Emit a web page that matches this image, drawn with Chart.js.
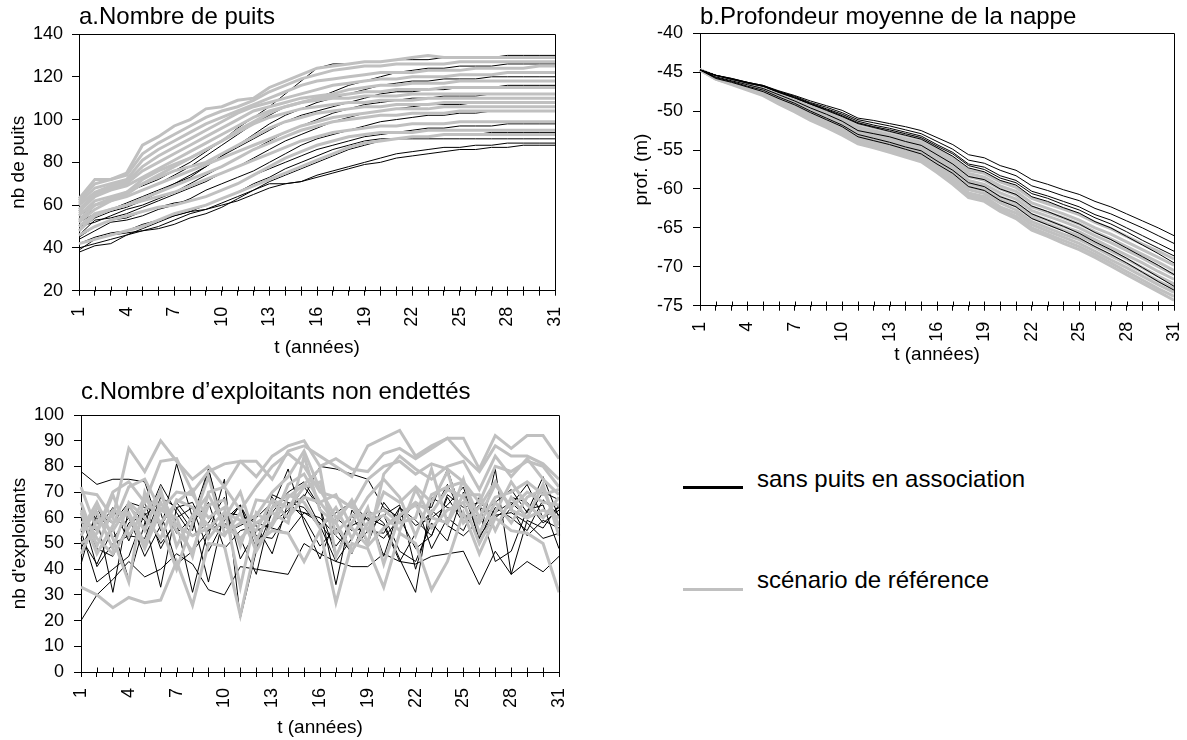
<!DOCTYPE html>
<html lang="fr">
<head>
<meta charset="utf-8">
<script src="https://cdn.jsdelivr.net/npm/chart.js@4.4.1/dist/chart.umd.min.js"></script>
<style>
html,body{margin:0;padding:0;background:#fff;}
body{width:1187px;height:740px;position:relative;overflow:hidden;font-family:"Liberation Sans",Arial,sans-serif;}
canvas{position:absolute;}
#cA{left:0;top:0;} #cB{left:620px;top:0;} #cC{left:0;top:370px;}
.leg{position:absolute;left:683px;width:60px;height:3px;}
.legt{position:absolute;left:757px;font-size:24px;line-height:24px;color:#000;white-space:nowrap;}
</style>
</head>
<body>
<canvas id="cA" width="580" height="370"></canvas>
<canvas id="cB" width="567" height="370"></canvas>
<canvas id="cC" width="580" height="370"></canvas>
<div class="leg" style="top:486px;background:#000"></div>
<div class="legt" style="top:467px">sans puits en association</div>
<div class="leg" style="top:588px;background:#c0c0c0"></div>
<div class="legt" style="top:568px">scénario de référence</div>
<script>
// années de simulation (axe x commun)
const annees = ["1","2","3","4","5","6","7","8","9","10","11","12","13","14","15","16","17","18","19","20","21","22","23","24","25","26","27","28","29","30","31"];

// a. nombre de puits — sans puits en association (noir)
const puitsSans = [
  [38,41,42,46,48,50,53,56,58,60, 62,65,68,70,71,73,75,77,79,80, 82,83,84,85,86,86,87,87,88,88,88],
  [40,42,44,46,49,52,55,57,58,61, 64,67,70,70,71,74,76,78,80,82, 84,85,86,87,87,88,88,89,89,89,89],
  [39,44,46,47,48,49,51,54,56,59, 63,67,71,74,77,80,83,86,88,90, 91,92,92,93,93,93,94,94,94,94,94],
  [42,45,47,48,51,53,55,57,60,63, 66,70,73,77,80,83,86,88,90,91, 91,91,91,91,91,91,91,91,91,91,91],
  [45,50,53,54,57,59,61,62,64,67, 70,74,77,80,83,86,88,90,92,93, 94,95,96,96,97,97,97,98,98,98,98],
  [44,48,52,53,55,58,60,63,67,70, 73,76,80,84,88,91,93,95,97,99, 100,101,102,102,103,103,104,104,104,104,104],
  [46,53,54,56,59,62,65,68,71,75, 78,82,86,90,93,96,99,101,103,104, 105,106,107,107,107,108,108,108,108,108,108],
  [50,52,55,58,60,63,66,70,74,78, 82,86,90,94,97,100,103,105,107,108, 109,110,110,111,111,111,112,112,112,112,112],
  [48,54,57,59,62,66,70,74,78,83, 87,91,95,99,102,104,106,108,110,112, 113,113,114,114,115,115,115,116,116,116,116],
  [52,56,58,61,64,67,70,73,78,83, 88,93,98,102,105,108,110,112,114,116, 117,118,118,119,119,119,120,120,120,120,120],
  [54,58,62,64,67,70,74,78,83,88, 93,98,102,106,108,110,113,116,118,120, 122,123,124,124,125,125,125,126,126,126,126],
  [55,60,63,66,69,72,76,80,85,90, 96,101,106,112,118,124,126,126,127,127, 128,128,128,129,129,129,129,130,130,130,130]
];
// a. nombre de puits — scénario de référence (gris)
const puitsRef = [
  [42,44,46,48,50,53,56,58,60,63, 66,69,72,75,78,81,84,87,89,90, 91,92,92,93,93,93,93,93,93,93,93],
  [46,50,53,55,57,59,60,62,64,67, 70,74,78,82,85,88,90,92,93,94, 94,94,95,95,95,95,95,95,95,95,95],
  [48,55,58,60,62,64,66,69,72,75, 78,81,84,87,90,92,94,95,96,97, 97,98,98,98,99,99,99,99,99,99,99],
  [50,56,58,60,63,66,69,72,75,78, 82,86,89,92,95,97,99,100,101,102, 102,103,103,103,104,104,104,104,104,104,104],
  [52,58,62,64,67,70,73,76,79,82, 85,88,91,94,97,99,101,102,103,104, 105,105,105,106,106,106,106,106,106,106,106],
  [53,60,63,66,70,73,76,78,80,84, 88,92,96,99,101,103,104,105,106,106, 107,107,107,108,108,108,108,108,108,108,108],
  [55,62,64,66,72,76,79,82,86,90, 94,98,101,103,105,106,107,108,108,109, 109,109,110,110,110,110,110,110,110,110,110],
  [56,60,62,65,70,74,78,82,86,90, 95,99,103,106,108,109,110,110,111,111, 111,112,112,112,112,112,112,112,112,112,112],
  [57,64,67,69,73,77,81,85,89,93, 97,101,104,106,108,110,111,112,113,113, 114,114,114,115,115,115,115,115,115,115,115],
  [58,65,68,70,76,80,84,88,92,96, 100,104,106,108,110,111,112,114,115,116, 116,117,117,117,118,118,118,118,118,118,118],
  [60,66,69,71,78,83,87,91,95,99, 103,106,108,110,112,114,116,117,118,119, 119,120,120,120,121,121,121,122,122,122,122],
  [61,68,70,72,81,86,90,94,98,101, 104,107,110,113,116,118,119,120,121,122, 122,122,123,123,123,124,124,124,124,125,125],
  [62,70,72,74,84,89,93,97,101,104, 106,109,113,116,119,121,123,124,125,125, 126,126,126,126,127,127,127,127,127,127,127],
  [63,72,72,75,88,92,97,100,105,106, 109,110,115,118,121,124,125,126,127,127, 128,129,130,129,129,129,129,129,129,129,129]
];

// b. profondeur moyenne de la nappe (m)
const profSans = [
  [-44.7,-45.4,-45.8,-46.3,-46.7,-47.4,-48.0,-48.7,-49.3,-49.9, -50.9,-51.2,-51.6,-52.0,-52.5,-53.4,-54.3,-55.6,-56.0,-57.0, -57.6,-58.8,-59.4,-60.1,-60.7,-61.6,-62.3,-63.2,-64.1,-65.0,-66.0],
  [-44.7,-45.4,-45.8,-46.3,-46.7,-47.5,-48.1,-48.9,-49.5,-50.2, -51.1,-51.5,-51.9,-52.4,-52.9,-53.9,-54.9,-56.3,-56.7,-57.6, -58.3,-59.6,-60.2,-60.9,-61.5,-62.5,-63.2,-64.1,-65.0,-66.0,-67.0],
  [-44.7,-45.4,-45.9,-46.3,-46.8,-47.5,-48.2,-49.0,-49.7,-50.4, -51.3,-51.8,-52.2,-52.7,-53.2,-54.3,-55.3,-56.8,-57.2,-58.3, -58.9,-60.3,-60.9,-61.6,-62.3,-63.3,-64.0,-65.0,-66.0,-67.0,-68.0],
  [-44.7,-45.4,-45.9,-46.4,-46.8,-47.6,-48.3,-49.1,-49.8,-50.6, -51.5,-52.0,-52.4,-52.9,-53.4,-54.5,-55.5,-57.0,-57.5,-58.6, -59.2,-60.6,-61.2,-62.0,-62.7,-63.7,-64.5,-65.5,-66.6,-67.6,-68.6],
  [-44.7,-45.4,-45.9,-46.4,-46.8,-47.6,-48.3,-49.1,-49.9,-50.7, -51.6,-52.1,-52.6,-53.1,-53.6,-54.7,-55.8,-57.3,-57.8,-58.9, -59.5,-61.0,-61.6,-62.4,-63.1,-64.2,-65.0,-66.1,-67.2,-68.3,-69.5],
  [-44.7,-45.6,-46.1,-46.6,-47.1,-47.9,-48.7,-49.6,-50.4,-51.3, -52.5,-52.9,-53.3,-53.9,-54.4,-55.6,-56.8,-58.4,-58.8,-60.0, -60.7,-62.2,-62.9,-63.7,-64.5,-65.6,-66.5,-67.6,-68.7,-69.8,-71.0],
  [-44.7,-45.7,-46.2,-46.8,-47.3,-48.2,-49.0,-50.0,-50.9,-51.8, -53.0,-53.5,-54.0,-54.6,-55.1,-56.4,-57.6,-59.2,-59.7,-61.0, -61.7,-63.2,-64.0,-64.8,-65.7,-66.8,-67.8,-68.9,-70.1,-71.3,-72.5],
  [-44.7,-45.8,-46.3,-46.9,-47.5,-48.4,-49.2,-50.2,-51.1,-52.0, -53.3,-53.8,-54.3,-54.9,-55.5,-56.8,-58.0,-59.7,-60.2,-61.5, -62.3,-63.8,-64.6,-65.4,-66.3,-67.4,-68.4,-69.5,-70.7,-71.9,-73.0]
];
const profRef = [
  [-44.7,-45.5,-46.0,-46.5,-46.9,-47.7,-48.5,-49.2,-49.9,-50.6, -51.6,-52.1,-52.6,-53.1,-53.6,-54.8,-56.0,-57.6,-58.0,-59.1, -59.8,-61.2,-61.9,-62.6,-63.3,-64.3,-65.1,-66.1,-67.1,-68.0,-69.0],
  [-44.7,-45.5,-46.1,-46.6,-47.1,-47.9,-48.7,-49.5,-50.2,-51.0, -52.0,-52.5,-53.0,-53.5,-54.0,-55.2,-56.4,-58.0,-58.5,-59.6, -60.3,-61.8,-62.5,-63.2,-64.0,-65.0,-65.8,-66.8,-67.8,-68.8,-69.8],
  [-44.7,-45.6,-46.2,-46.7,-47.2,-48.1,-48.9,-49.7,-50.5,-51.3, -52.3,-52.8,-53.3,-53.8,-54.3,-55.5,-56.8,-58.4,-58.9,-60.0, -60.8,-62.3,-63.0,-63.7,-64.5,-65.5,-66.4,-67.4,-68.4,-69.4,-70.5],
  [-44.7,-45.6,-46.2,-46.8,-47.3,-48.2,-49.1,-49.9,-50.7,-51.6, -52.6,-53.1,-53.6,-54.1,-54.7,-55.9,-57.2,-58.9,-59.4,-60.5, -61.3,-62.8,-63.5,-64.2,-65.0,-66.0,-66.9,-67.9,-68.9,-70.0,-71.0],
  [-44.7,-45.7,-46.3,-46.9,-47.4,-48.4,-49.3,-50.1,-51.0,-51.9, -52.9,-53.4,-53.9,-54.4,-55.0,-56.3,-57.6,-59.3,-59.8,-61.0, -61.8,-63.3,-64.0,-64.8,-65.5,-66.5,-67.5,-68.5,-69.5,-70.6,-71.6],
  [-44.7,-45.7,-46.3,-47.0,-47.5,-48.5,-49.4,-50.3,-51.2,-52.1, -53.2,-53.7,-54.2,-54.7,-55.3,-56.6,-58.0,-59.7,-60.2,-61.4, -62.2,-63.7,-64.5,-65.3,-66.0,-67.0,-68.0,-69.0,-70.1,-71.2,-72.2],
  [-44.7,-45.8,-46.4,-47.1,-47.6,-48.7,-49.6,-50.5,-51.4,-52.4, -53.5,-54.0,-54.5,-55.0,-55.6,-57.0,-58.4,-60.1,-60.6,-61.8, -62.7,-64.2,-65.0,-65.8,-66.5,-67.5,-68.6,-69.6,-70.7,-71.8,-72.8],
  [-44.7,-45.8,-46.5,-47.2,-47.8,-48.9,-49.8,-50.8,-51.7,-52.7, -53.8,-54.3,-54.8,-55.3,-55.9,-57.3,-58.8,-60.5,-61.0,-62.3, -63.1,-64.6,-65.4,-66.2,-67.0,-68.0,-69.1,-70.1,-71.2,-72.3,-73.3],
  [-44.7,-45.9,-46.5,-47.2,-47.9,-49.0,-50.0,-51.0,-51.9,-52.9, -54.0,-54.5,-55.0,-55.6,-56.2,-57.6,-59.1,-60.8,-61.3,-62.6, -63.5,-65.0,-65.8,-66.6,-67.4,-68.4,-69.5,-70.6,-71.7,-72.8,-73.8],
  [-44.7,-45.9,-46.6,-47.3,-48.0,-49.1,-50.1,-51.2,-52.1,-53.1, -54.2,-54.7,-55.3,-55.9,-56.5,-57.9,-59.4,-61.1,-61.6,-62.9, -63.8,-65.3,-66.1,-67.0,-67.8,-68.8,-69.9,-71.0,-72.1,-73.2,-74.3]
];

// c. nombre d'exploitants non endettés
const exploitSans = [
  [20,30,36,43,37,40,46,42,32,30, 41,40,39,38,50,46,43,41,41,46, 43,42,45,46,47,34,47,38,43,39,45],
  [78,73,75,75,74,55,81,60,79,56, 65,48,68,60,68,80,79,77,75,64, 60,65,64,79,60,61,66,71,62,76,60],
  [45,60,31,64,59,33,64,66,53,75, 21,47,62,70,74,64,34,63,55,61, 47,43,58,51,70,52,79,38,59,56,65],
  [55,35,40,45,62,50,58,31,56,57, 65,47,69,66,60,49,56,46,63,58, 44,31,68,64,62,53,61,62,58,52,54],
  [62,41,50,53,52,68,64,55,79,54, 57,60,66,64,62,58,49,57,60,57, 43,54,63,57,53,59,56,64,53,59,56],
  [48,61,58,66,64,62,42,47,55,62, 52,38,64,79,58,44,60,55,56,52, 60,48,53,68,58,65,43,47,63,65,48],
  [52,42,56,36,58,73,62,53,58,68, 44,55,58,63,69,57,43,52,63,45, 64,57,60,65,72,52,64,60,55,67,61],
  [58,55,64,51,66,48,60,64,47,59, 65,53,52,62,72,64,45,61,50,66, 58,66,48,60,55,68,55,68,66,58,63],
  [42,64,52,60,45,57,66,58,66,48, 55,57,46,66,64,56,62,66,59,61, 65,40,61,73,60,64,62,66,60,70,67],
  [60,48,45,58,61,66,54,60,35,62, 61,58,56,54,62,60,53,47,55,54, 64,59,53,69,64,66,60,65,73,60,64]
];
const exploitRef = [
  [33,30,25,29,27,28,43,26,50,49, 22,50,55,54,43,55,27,50,48,33, 54,50,32,43,62,46,60,55,54,50,31],
  [70,69,60,87,78,90,82,75,80,72, 82,82,75,86,88,84,80,76,88,91, 94,84,88,91,91,79,92,87,92,92,83],
  [72,55,70,74,66,82,83,70,78,81, 82,76,84,88,90,80,83,79,78,85, 87,83,87,91,84,78,88,84,84,81,75],
  [62,46,57,72,75,63,60,45,70,72, 63,72,80,85,80,70,68,64,75,80, 82,77,81,79,74,66,80,78,82,80,72],
  [55,66,52,35,70,57,40,58,76,54, 58,61,70,76,86,71,60,66,50,77, 84,79,75,80,82,71,84,76,83,75,69],
  [66,49,63,61,48,63,70,69,60,64, 33,62,57,68,73,79,45,58,68,75, 68,53,69,72,74,60,73,64,70,66,65],
  [58,62,48,66,60,52,67,64,57,53, 62,47,58,73,77,66,69,56,49,56, 61,66,62,71,68,58,68,70,74,69,71],
  [50,54,69,53,63,69,57,53,56,62, 59,55,67,64,72,74,54,61,61,63, 58,60,79,58,75,54,66,58,68,71,57],
  [46,59,55,65,55,71,49,61,69,57, 52,58,62,58,84,63,58,67,55,70, 66,72,66,78,58,64,74,63,60,73,53],
  [63,52,46,56,68,58,66,71,52,60, 70,51,64,69,66,56,64,52,64,42, 61,65,56,63,66,50,62,74,65,60,68],
  [53,64,58,62,50,66,55,47,65,67, 49,67,66,60,68,66,58,47,58,61, 55,71,60,58,69,69,55,68,60,63,60]
];

const FONT = '"Liberation Sans", Arial, sans-serif';
const NOIR = "#000", GRIS = "#c0c0c0";

// cadre du graphique + petites graduations vers l'intérieur sur l'axe x
const cadre = {
  id: "cadre",
  afterDraw(ch){
    const ctx = ch.ctx, a = ch.chartArea, x = ch.scales.x;
    const L = Math.round(a.left)+0.5, R = Math.round(a.right)+0.5, T = Math.round(a.top)+0.5, B = Math.round(a.bottom)+0.5;
    ctx.save();
    ctx.strokeStyle = NOIR; ctx.lineWidth = 1;
    ctx.beginPath();
    ctx.moveTo(L, T); ctx.lineTo(R, T); ctx.lineTo(R, B);
    x.ticks.forEach((t, i) => {
      const px = Math.round(x.getPixelForTick(i))+0.5;
      ctx.moveTo(px, B); ctx.lineTo(px, B-5);
    });
    ctx.stroke();
    ctx.restore();
  }
};

function series(arr, col, w, ord){
  return arr.map(d => ({data:d, borderColor:col, borderWidth:w, pointRadius:0, tension:0, fill:false, order:ord}));
}

function panel(id, o){
  return new Chart(document.getElementById(id), {
    type: "line",
    data: {labels: annees, datasets: o.datasets},
    options: {
      responsive: false, animation: false, devicePixelRatio: 1,
      layout: {padding: {left:0, top:0, right:o.padR, bottom:o.padB}},
      plugins: {
        legend: {display:false}, tooltip: {enabled:false},
        title: {display:true, text:o.titre, align:"start", fullSize:false, color:NOIR,
          font:{size:24, family:FONT, weight:"normal", lineHeight:1.2}, padding:{top:o.tTop, bottom:o.tBot}}
      },
      scales: {
        x: {
          ticks: {autoSkip:false, minRotation:90, maxRotation:90, padding:11, color:NOIR,
            font:{size:18, family:FONT}, callback:(v, i) => i%3===0 ? annees[i] : ""},
          grid: {drawOnChartArea:false, tickLength:5, color:NOIR},
          border: {color:NOIR},
          title: {display:true, text:"t (années)", color:NOIR, font:{size:19, family:FONT}, padding:{top:4, bottom:o.xtPad}},
          afterFit(s){ s.height = o.xH; s.paddingLeft = 0; s.paddingRight = 0; }
        },
        y: {
          min:o.min, max:o.max,
          ticks: {stepSize:o.step, padding:o.yPad, color:NOIR, font:{size:18, family:FONT}},
          grid: {drawOnChartArea:false, tickLength:7, color:NOIR},
          border: {color:NOIR},
          title: {display:true, text:o.ytitre, color:NOIR, font:{size:19, family:FONT}, padding:{top:o.ytPad, bottom:0}},
          afterFit(s){ s.width = o.yW; s.paddingTop = 0; s.paddingBottom = 0; }
        }
      }
    },
    plugins: [cadre]
  });
}

panel("cA", {
  titre:"a.Nombre de puits", ytitre:"nb de puits",
  datasets: series(puitsRef, GRIS, 3, 0).concat(series(puitsSans, NOIR, 1, 1)),
  min:20, max:140, step:20, yPad:9, yW:79, ytPad:7,
  padR:25, padB:9.3, xH:70, xtPad:2, tTop:3, tBot:2.2
});
panel("cB", {
  titre:"b.Profondeur moyenne de la nappe", ytitre:"prof. (m)",
  datasets: series(profSans, NOIR, 1, 0).concat(series(profRef, GRIS, 3, 1)),
  min:-75, max:-40, step:5, yPad:10, yW:80, ytPad:10.6,
  padR:13, padB:1.6, xH:62.7, xtPad:2, tTop:3, tBot:1.5
});
panel("cC", {
  titre:"c.Nombre d\u2019exploitants non endettés", ytitre:"nb d'exploitants",
  datasets: series(exploitRef, GRIS, 3, 0).concat(series(exploitSans, NOIR, 1, 1)),
  min:0, max:100, step:10, yPad:10, yW:81, ytPad:8.6,
  padR:21, padB:0.6, xH:67.4, xtPad:0, tTop:8.3, tBot:7.9
});
</script>
</body>
</html>
